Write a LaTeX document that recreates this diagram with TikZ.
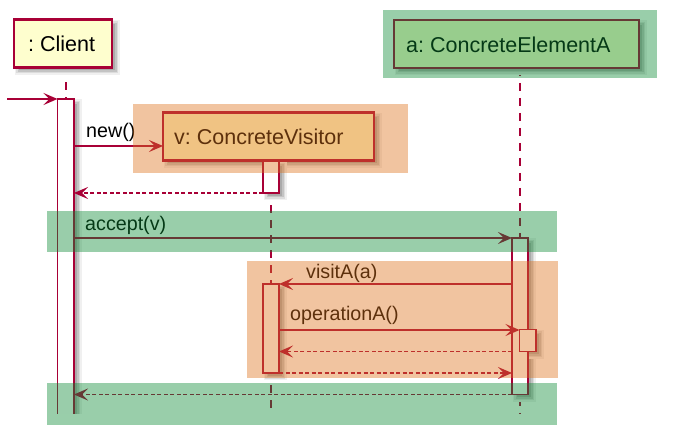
\documentclass[tikz,border=0pt]{standalone}
\usepackage{fontspec}
\setmainfont{Liberation Sans}
\usetikzlibrary{arrows.meta}
\definecolor{crim}{RGB}{168,0,54}
\definecolor{boxfill}{RGB}{254,254,206}
\definecolor{bandor}{RGB}{222,115,29}
\definecolor{bandgr}{RGB}{12,138,53}
\definecolor{shA}{RGB}{240,240,240}
\definecolor{shB}{RGB}{220,220,220}
\definecolor{shC}{RGB}{195,195,195}
\definecolor{shD}{RGB}{170,170,170}
\tikzset{
 part/.style={rectangle, draw=crim, fill=boxfill, line width=2.2pt, inner sep=0pt, outer sep=0pt, anchor=north west},
 actbar/.style={rectangle, draw=crim, fill=white, line width=1.7pt, inner sep=0pt, outer sep=0pt, anchor=north west},
 ptext/.style={anchor=base west, inner sep=0pt, font=\fontsize{21.5}{24}\selectfont\frenchspacing},
 mtext/.style={anchor=base west, inner sep=0pt, font=\fontsize{19.7}{22}\selectfont\frenchspacing},
 lifeline/.style={draw=crim, line width=2pt, dash pattern=on 8pt off 7pt},
 msg/.style={draw=crim, line width=1.7pt, -{Stealth[length=14pt,width=12pt,inset=6pt]}},
 ret/.style={msg, dash pattern=on 4pt off 2.5pt},
 band/.style={rectangle, fill=#1, fill opacity=0.42, draw=none, inner sep=0pt, outer sep=0pt, anchor=north west},
}
\newcommand\dropsh[4]{%
 \fill[shA] (#1+0.5,#2+0.5) rectangle (#3+7.5,#4+7.5);
 \fill[shB] (#1+2,#2+2) rectangle (#3+6,#4+6);
 \fill[shC] (#1+3.5,#2+3.5) rectangle (#3+4.5,#4+4.5);
 \fill[shD] (#1+5,#2+5) rectangle (#3+3,#4+3);}
\begin{document}
\begin{tikzpicture}[x=1pt,y=-1pt]
\useasboundingbox (0,0) rectangle (675,435);
% message rows
\coordinate (m1) at (0,146);
\coordinate (m2) at (0,193);
\coordinate (m3) at (0,238);
\coordinate (m4) at (0,284);
\coordinate (m5) at (0,330);
\coordinate (m6) at (0,351.5);
\coordinate (m7) at (0,373);
\coordinate (m8) at (0,394.5);
\coordinate (cl) at (65.5,414);
\coordinate (vl) at (271,414);
\coordinate (al) at (520,414);
\coordinate (ctop) at (65.5,67.5);
\coordinate (vtop) at (271,160.5);
\coordinate (atop) at (520,68);
\coordinate (start) at (7,99);
% lifelines
\draw[lifeline] (ctop) -- (cl);
\draw[lifeline] (vtop) -- (vl);
\draw[lifeline] (atop) -- (al);
% shadows
\dropsh{14}{19.5}{112}{67.5}
\dropsh{163}{112.5}{374}{160.5}
\dropsh{394}{20}{639}{68}
\begin{scope}
\clip (0,0) rectangle (675,414);
\dropsh{57.5}{99}{74}{425}
\end{scope}
\dropsh{263}{161}{279}{193}
\dropsh{263}{284}{279}{373}
\dropsh{512}{238}{528}{394.5}
\dropsh{519.5}{329.5}{536}{351.5}
% participants
\node[part, minimum width=98pt, minimum height=48pt] (client) at (14,19.5) {};
\node[ptext] (clientlab) at (28,52) {: Client};
\node[part, minimum width=211pt, minimum height=48pt] (visitor) at (163,112.5) {};
\node[ptext] (vislab) at (174,144.5) {v: ConcreteVisitor};
\node[part, minimum width=245pt, minimum height=48pt] (elemA) at (394,20) {};
\node[ptext] (alab) at (406,52.5) {a: ConcreteElementA};
% activation bars
\node[actbar, draw=none, minimum width=16.5pt, minimum height=315pt] (cbar) at (57.5,99) {};
\draw[crim, line width=1.7pt] (cbar.south west) -- (cbar.north west) -- (cbar.north east) -- (cbar.south east);
\node[actbar, minimum width=16pt, minimum height=32pt] (vbar1) at (263,161) {};
\node[actbar, minimum width=16pt, minimum height=89pt] (vbar2) at (263,284) {};
\node[actbar, minimum width=16pt, minimum height=156.5pt] (abar) at (512,238) {};
\node[actbar, minimum width=16.5pt, minimum height=22pt] (nested) at (519.5,329.5) {};
% messages
\draw[msg] (start) -- (cbar.north west);
\draw[msg] (cbar.east |- m1) -- (visitor.west |- m1);
\node[mtext] (l1) at (86,138) {new()};
\draw[ret] (vbar1.west |- m2) -- (cbar.east |- m2);
\draw[msg] (cbar.east |- m3) -- (abar.west |- m3);
\node[mtext] (l3) at (85,231) {accept(v)};
\draw[msg] (abar.west |- m4) -- (vbar2.east |- m4);
\node[mtext] (l4) at (306,279) {visitA(a)};
\draw[msg] (vbar2.east |- m5) -- (nested.west |- m5);
\node[mtext] (l5) at (290,321) {operationA()};
\draw[ret] (abar.west |- m6) -- (vbar2.east |- m6);
\draw[ret] (vbar2.east |- m7) -- (abar.west |- m7);
\draw[ret] (abar.west |- m8) -- (cbar.east |- m8);
% translucent boxes
\node[band=bandor, minimum width=275pt, minimum height=69pt] (vband) at (133,104) {};
\node[band=bandgr, minimum width=274pt, minimum height=68pt] (aband) at (383,10) {};
\node[band=bandgr, minimum width=510pt, minimum height=41pt] (acband) at (47,211) {};
\node[band=bandor, minimum width=311pt, minimum height=117pt] (vsband) at (247,261) {};
\node[band=bandgr, minimum width=510pt, minimum height=42pt] (endband) at (47,383) {};
\end{tikzpicture}
\end{document}
